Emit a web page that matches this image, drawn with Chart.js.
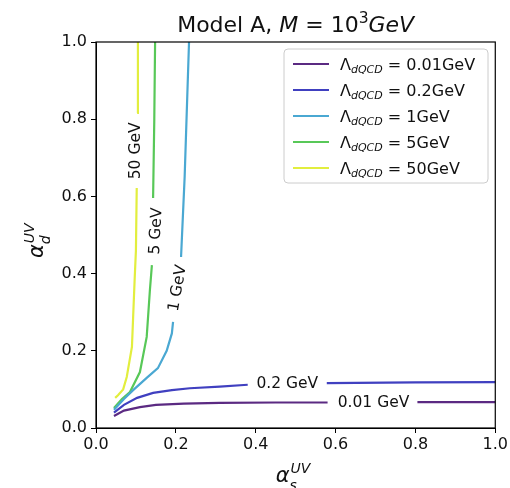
<!DOCTYPE html>
<html><head><meta charset="utf-8">
<script src="https://cdn.jsdelivr.net/npm/chart.js@4"></script>
<style>html,body{margin:0;padding:0;background:#fff}canvas{display:block}</style>
</head><body>
<canvas id="c" width="510" height="488"></canvas>
<script>
// ---- data ----
const seriesLabels = ["0.01GeV", "0.2GeV", "1GeV", "5GeV", "50GeV"];
const contourLabels = ["0.01 GeV", "0.2 GeV", "1 GeV", "5 GeV", "50 GeV"];
const xTickValues = [0.0, 0.2, 0.4, 0.6, 0.8, 1.0];
const yTickValues = [0.0, 0.2, 0.4, 0.6, 0.8, 1.0];

const as_001 = [0.045, 0.07, 0.11, 0.15, 0.22, 0.31, 0.45, 0.58, null, 0.805, 1.0];
const ad_001 = [0.031, 0.045, 0.054, 0.060, 0.063, 0.065, 0.066, 0.066, null, 0.067, 0.067];

const as_02 = [0.045, 0.07, 0.103, 0.143, 0.19, 0.235, 0.31, 0.38, null, 0.578, 0.8, 1.0];
const ad_02 = [0.040, 0.060, 0.078, 0.091, 0.098, 0.103, 0.107, 0.112, null, 0.116, 0.118, 0.119];

const as_1 = [0.045, 0.07, 0.093, 0.127, 0.155, 0.177, 0.19, 0.193, null, 0.213, 0.222, 0.233];
const ad_1 = [0.047, 0.075, 0.098, 0.130, 0.155, 0.200, 0.245, 0.275, null, 0.443, 0.650, 1.0];

const as_5 = [0.045, 0.065, 0.085, 0.11, 0.127, 0.135, 0.14, null, 0.143, 0.146, 0.148];
const ad_5 = [0.052, 0.075, 0.093, 0.145, 0.236, 0.357, 0.422, null, 0.596, 0.800, 1.0];

const as_50 = [0.048, 0.055, 0.068, 0.077, 0.09, 0.093, 0.097, 0.1, 0.102, null, 0.103, 0.105];
const ad_50 = [0.078, 0.085, 0.100, 0.132, 0.210, 0.287, 0.390, 0.460, 0.622, null, 0.816, 1.0];

// contour label anchor (data coords) and rotation (deg)
const labelX = [0.695, 0.479, 0.205, 0.151, 0.101];
const labelY = [0.066, 0.114, 0.362, 0.510, 0.718];
const labelRot = [0, 0, -80, -87, -90];

// ---- styles ----
const colors = ["#5b2a82", "#4040c0", "#4aa8d2", "#58c858", "#e2ee3e"];
const FONT = "'DejaVu Sans', sans-serif";

function pts(xs, ys) {
  const out = [];
  let last = 0;
  for (let i = 0; i < xs.length; i++) {
    if (xs[i] === null) out.push({x: last, y: null});
    else { out.push({x: xs[i], y: ys[i]}); last = xs[i]; }
  }
  return out;
}
const allX = [as_001, as_02, as_1, as_5, as_50];
const allY = [ad_001, ad_02, ad_1, ad_5, ad_50];

const datasets = allX.map((xs, i) => ({
  label: seriesLabels[i],
  data: pts(xs, allY[i]),
  borderColor: colors[i],
  backgroundColor: colors[i],
  borderWidth: 2.2,
  pointRadius: 0,
  tension: 0,
  spanGaps: false,
  fill: false
}));

function drawRich(ctx, parts, x, y, align) {
  let w = 0;
  parts.forEach(p => { ctx.font = p.font; p.w = ctx.measureText(p.t).width; w += p.w + (p.gap || 0); });
  let cx = align === 'center' ? x - w / 2 : (align === 'right' ? x - w : x);
  ctx.textAlign = 'left';
  ctx.textBaseline = 'alphabetic';
  parts.forEach(p => { ctx.font = p.font; ctx.fillText(p.t, cx, y + (p.dy || 0)); cx += p.w + (p.gap || 0); });
}

const decor = {
  id: 'decor',
  afterDraw(chart) {
    const ctx = chart.ctx, a = chart.chartArea;
    const xs = chart.scales.x, ys = chart.scales.y;
    ctx.save();
    // frame
    ctx.strokeStyle = '#000'; ctx.lineWidth = 1.2;
    ctx.strokeRect(a.left, a.top, a.right - a.left, a.bottom - a.top);
    ctx.fillStyle = '#000';
    // contour labels
    ctx.font = "15.5px " + FONT;
    contourLabels.forEach((t, i) => {
      const px = xs.getPixelForValue(labelX[i]), py = ys.getPixelForValue(labelY[i]);
      ctx.save();
      ctx.translate(px, py);
      ctx.rotate(labelRot[i] * Math.PI / 180);
      ctx.textAlign = 'center'; ctx.textBaseline = 'middle';
      ctx.fillStyle = '#111';
      ctx.fillText(t, 0, 0);
      ctx.restore();
    });
    // title
    ctx.fillStyle = '#111';
    drawRich(ctx, [
      {t: "Model A, ", font: "22px " + FONT},
      {t: "M", font: "italic 22px " + FONT},
      {t: " = ", font: "22px " + FONT},
      {t: "10", font: "22px " + FONT},
      {t: "3", font: "15.5px " + FONT, dy: -9},
      {t: "GeV", font: "italic 22px " + FONT}
    ], (a.left + a.right) / 2, 32, 'center');
    // x axis title
    const xc = (a.left + a.right) / 2;
    ctx.font = "italic 21px " + FONT;
    const aw = ctx.measureText("α").width;
    const ax0 = xc - 20;
    ctx.textAlign = 'left'; ctx.textBaseline = 'alphabetic';
    ctx.fillText("α", ax0, 482);
    ctx.font = "italic 14px " + FONT;
    ctx.fillText("UV", ax0 + aw + 1, 473);
    ctx.fillText("s", ax0 + aw, 490);
    // y axis title (rotated)
    ctx.save();
    ctx.translate(43, 238);
    ctx.rotate(-Math.PI / 2);
    ctx.font = "italic 21px " + FONT;
    ctx.fillText("α", -20, 0);
    ctx.font = "italic 14px " + FONT;
    ctx.fillText("UV", -20 + aw + 1, -9);
    ctx.fillText("d", -20 + aw, 7);
    ctx.restore();
    // legend
    const lx = 284, ly = 49, lw = 204, lh = 134;
    ctx.save();
    ctx.beginPath();
    if (ctx.roundRect) ctx.roundRect(lx, ly, lw, lh, 4); else ctx.rect(lx, ly, lw, lh);
    ctx.fillStyle = 'rgba(255,255,255,0.85)';
    ctx.fill();
    ctx.strokeStyle = '#cccccc'; ctx.lineWidth = 1;
    ctx.stroke();
    ctx.restore();
    chart.data.datasets.forEach((ds, i) => {
      const yy = 64 + i * 26;
      ctx.strokeStyle = ds.borderColor; ctx.lineWidth = 2.2;
      ctx.beginPath(); ctx.moveTo(293, yy); ctx.lineTo(329, yy); ctx.stroke();
      ctx.fillStyle = '#111';
      drawRich(ctx, [
        {t: "Λ", font: "16px " + FONT},
        {t: "dQCD", font: "italic 11px " + FONT, dy: 3},
        {t: " = " + ds.label, font: "16px " + FONT}
      ], 340, yy + 6, 'left');
    });
    ctx.restore();
  }
};

new Chart(document.getElementById('c'), {
  type: 'line',
  data: {datasets},
  options: {
    responsive: false,
    animation: false,
    devicePixelRatio: 1,
    layout: {padding: {left: 0, right: 14, top: 42, bottom: 0}},
    plugins: {legend: {display: false}, title: {display: false}, tooltip: {enabled: false}},
    scales: {
      x: {
        type: 'linear', min: 0, max: 1,
        afterBuildTicks: s => { s.ticks = xTickValues.map(v => ({value: v})); },
        afterFit: s => { s.height = 60; },
        ticks: {color: '#111', font: {family: FONT, size: 16}, padding: 2, maxRotation: 0,
                callback: v => Number(v).toFixed(1)},
        grid: {drawOnChartArea: false, drawTicks: true, tickLength: 5, tickColor: '#000'},
        border: {display: true, color: '#000', width: 1}
      },
      y: {
        type: 'linear', min: 0, max: 1,
        afterBuildTicks: s => { s.ticks = yTickValues.map(v => ({value: v})); },
        afterFit: s => { s.width = 96; },
        ticks: {color: '#111', font: {family: FONT, size: 16}, padding: 4,
                callback: v => Number(v).toFixed(1)},
        grid: {drawOnChartArea: false, drawTicks: true, tickLength: 5, tickColor: '#000'},
        border: {display: true, color: '#000', width: 1}
      }
    }
  },
  plugins: [decor]
});
</script>
</body></html>
